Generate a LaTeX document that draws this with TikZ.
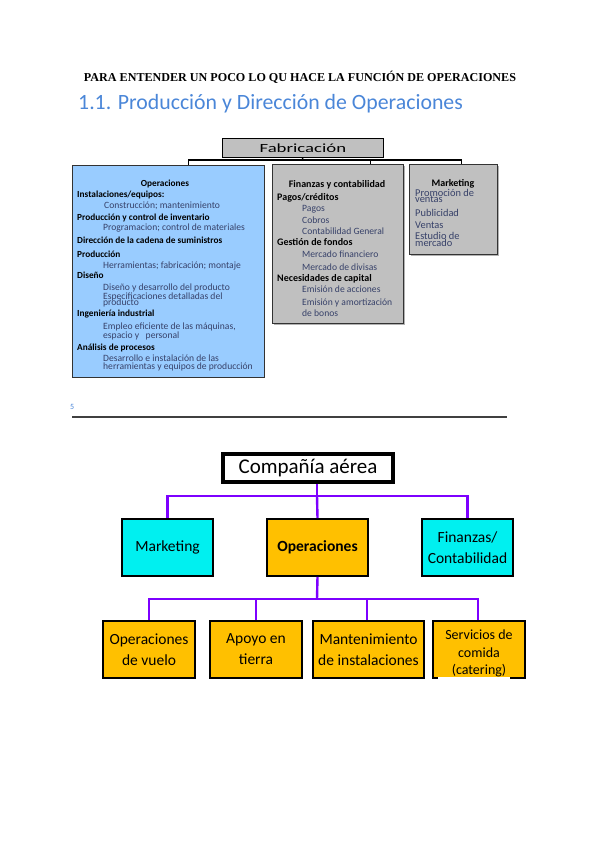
\documentclass[tikz,border=0pt]{standalone}
\usepackage{fontspec}
\setmainfont{Carlito}
\newfontfamily\titlefont{Liberation Serif}
\definecolor{headblue}{RGB}{74,134,216}
\definecolor{opsblue}{RGB}{153,204,255}
\definecolor{boxgray}{RGB}{192,192,192}
\definecolor{subtxt}{RGB}{55,65,105}
\definecolor{linepurple}{RGB}{125,0,255}
\definecolor{cyanbox}{RGB}{0,240,240}
\definecolor{orangebox}{RGB}{255,192,0}
\tikzset{
  smallbox/.style={draw=black!80, line width=0.8pt, anchor=north west, inner sep=0pt},
  tinytxt/.style={anchor=base west, inner sep=0pt, font=\fontsize{9.6}{9}\selectfont},
  tinybold/.style={tinytxt, font=\fontsize{9.3}{9}\selectfont\bfseries},
  subitem/.style={tinytxt, text=subtxt},
  mktitem/.style={subitem, font=\fontsize{10.4}{9}\selectfont},
  topconn/.style={draw=black, line width=1.3pt},
  bigbox/.style={draw=black, line width=1.8pt, inner sep=0pt, align=center},
  purpleconn/.style={draw=linepurple, line width=2.4pt},
  bigtxt/.style={font=\fontsize{15.5}{21}\selectfont}
}
\begin{document}
\begin{tikzpicture}[x=1pt,y=-1pt]
\useasboundingbox (0,0) rectangle (599,848);
% titles
\node[inner sep=0pt, anchor=base] (title) at (300,82) {\titlefont\bfseries\fontsize{12.1}{12}\selectfont PARA ENTENDER UN POCO LO QU HACE LA FUNCIÓN DE OPERACIONES};
\node[inner sep=0pt, anchor=base west, text=headblue] (head) at (78,110) {\fontsize{21.8}{22}\selectfont 1.1. Producción y Dirección de Operaciones};
% top boxes
\node[smallbox, fill=boxgray, draw=black, minimum width=161pt, minimum height=19pt] (fab) at (222,138) {};
\node[inner sep=0pt] (fabt) at (fab.center) {\fontsize{12.5}{13}\selectfont\scalebox{1.5}[1]{Fabricación}};
\node[smallbox, fill=opsblue, minimum width=192pt, minimum height=212pt] (ops) at (72,165) {};
\fill[black!30] (274,166) rectangle (405,325);
\node[smallbox, fill=boxgray, minimum width=131pt, minimum height=159pt] (fin) at (272,164) {};
\fill[black!30] (411,166) rectangle (499,256);
\node[smallbox, fill=boxgray, minimum width=88pt, minimum height=90pt] (mkt) at (409,164) {};
% connectors top
\coordinate (bus) at (302,160);
\draw[topconn] (fab.south) -- (bus);
\draw[topconn] (bus) -| ([xshift=20pt]ops.north);
\draw[topconn] (bus) -| ([xshift=32.5pt]fin.north);
\draw[topconn] (bus) -| ([xshift=8pt]mkt.north);
% Operaciones text
\node[tinybold, anchor=base] (o0) at (165,186) {Operaciones};
\node[tinybold] (o1) at (77,197) {Instalaciones/equipos:};
\node[subitem] (o2) at (104,208) {Construcción; mantenimiento};
\node[tinybold] (o3) at (77,220) {Producción y control de inventario};
\node[subitem] (o4) at (103,230) {Programacion; control de materiales};
\node[tinybold] (o5) at (77,243) {Dirección de la cadena de suministros};
\node[tinybold] (o6) at (77,257) {Producción};
\node[subitem] (o7) at (103,268) {Herramientas; fabricación; montaje};
\node[tinybold] (o8) at (77,278) {Diseño};
\node[subitem] (o9) at (103,290) {Diseño y desarrollo del producto};
\node[subitem] (o10) at (103,299.5) {Especificaciones detalladas del};
\node[subitem] (o11) at (103,305.5) {producto};
\node[tinybold] (o12) at (77,316) {Ingeniería industrial};
\node[subitem] (o13) at (103,329) {Empleo eficiente de las máquinas,};
\node[subitem] (o14) at (103,338) {espacio y \ \ personal};
\node[tinybold] (o15) at (77,350) {Análisis de procesos};
\node[subitem] (o16) at (103,361) {Desarrollo e instalación de las};
\node[subitem] (o17) at (103,369) {herramientas y equipos de producción};
% Finanzas text
\node[tinybold, anchor=base, font=\fontsize{10}{9}\selectfont\bfseries] (f0) at (337,187) {Finanzas y contabilidad};
\node[tinybold, font=\fontsize{10}{9}\selectfont\bfseries] (f1) at (277,200) {Pagos/créditos};
\node[subitem] (f2) at (302,211) {Pagos};
\node[subitem] (f3) at (302,223) {Cobros};
\node[subitem] (f4) at (302,234) {Contabilidad General};
\node[tinybold, font=\fontsize{10}{9}\selectfont\bfseries] (f5) at (277,245) {Gestión de fondos};
\node[subitem] (f6) at (302,257) {Mercado financiero};
\node[subitem] (f7) at (302,270) {Mercado de divisas};
\node[tinybold, font=\fontsize{10}{9}\selectfont\bfseries] (f8) at (277,281) {Necesidades de capital};
\node[subitem] (f9) at (302,292) {Emisión de acciones};
\node[subitem] (f10) at (302,305) {Emisión y amortización};
\node[subitem] (f11) at (302,316) {de bonos};
% Marketing text
\node[tinybold, anchor=base, font=\fontsize{10}{9}\selectfont\bfseries] (m0) at (453,186.5) {Marketing};
\node[mktitem] (m1) at (415,196) {Promoción de};
\node[mktitem] (m2) at (415,202.5) {ventas};
\node[mktitem] (m3) at (415,216) {Publicidad};
\node[mktitem] (m4) at (415,228) {Ventas};
\node[mktitem] (m5) at (415,239.5) {Estudio de};
\node[mktitem] (m6) at (415,246.5) {mercado};
% separator
\node[inner sep=0pt, anchor=base west, text=headblue] (mark) at (70,409) {\fontsize{8}{8}\selectfont 5};
\draw[line width=1.4pt, black!75] (72,417) -- (507,417);
% bottom chart
\node[bigbox, line width=3.2pt, fill=white, minimum width=170pt, minimum height=28pt] (cia) at (308,468) {\fontsize{21}{20}\selectfont Compañía aérea};
\node[bigbox, fill=cyanbox, minimum width=91pt, minimum height=57pt, bigtxt] (mk) at (167.5,547.5) {Marketing};
\node[bigbox, fill=orangebox, minimum width=101pt, minimum height=57pt, bigtxt, font=\fontsize{15.5}{21}\selectfont\bfseries] (op) at (317.5,547.5) {Operaciones};
\node[bigbox, fill=cyanbox, minimum width=91pt, minimum height=57pt, bigtxt] (fc) at (467.5,547.5) {Finanzas/\\Contabilidad};
\node[bigbox, fill=orangebox, minimum width=92pt, minimum height=57pt, bigtxt] (ov) at (149,649.5) {Operaciones\\de vuelo};
\node[bigbox, fill=orangebox, minimum width=92pt, minimum height=57pt, bigtxt] (at) at (256,649.5) {Apoyo en\\tierra};
\node[bigbox, fill=orangebox, minimum width=111pt, minimum height=57pt, bigtxt] (mi) at (368.5,649.5) {Mantenimiento\\de instalaciones};
\node[bigbox, fill=orangebox, minimum width=92pt, minimum height=57pt] (sc) at (479,649.5) {};
\node[inner sep=0pt, align=center, font=\fontsize{14}{17.5}\selectfont] (sct) at (479,653.5) {Servicios de\\comida\\(catering)};
\fill[white] (438,677.2) rectangle (510,681);
% purple connectors
\coordinate (bus1) at (317,496);
\coordinate (bus2) at (317,599);
\draw[purpleconn] ([xshift=9pt]cia.south) -- (bus1);
\draw[purpleconn] (bus1) -| (mk.north);
\draw[purpleconn] (bus1) -- (op.north);
\draw[purpleconn] (bus1) -| (fc.north);
\draw[purpleconn] (op.south) -- (bus2);
\draw[purpleconn] (bus2) -| (ov.north);
\draw[purpleconn] (bus2) -| (at.north);
\draw[purpleconn] (bus2) -| ([xshift=-1.5pt]mi.north);
\draw[purpleconn] (bus2) -| ([xshift=-1pt]sc.north);
\end{tikzpicture}
\end{document}
